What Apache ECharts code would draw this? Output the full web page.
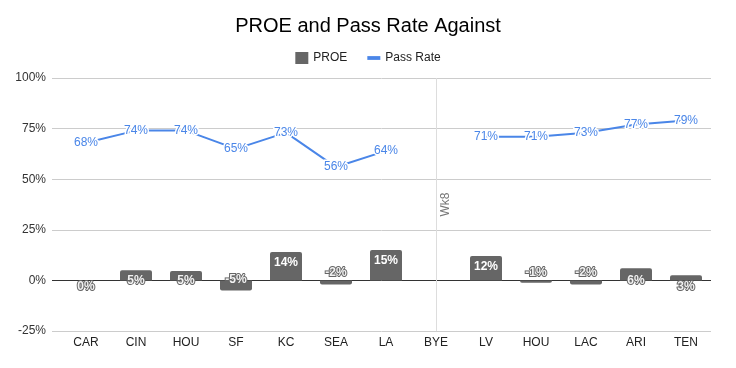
<!DOCTYPE html>
<html><head><meta charset="utf-8">
<script src="https://cdn.jsdelivr.net/npm/echarts@6/dist/echarts.min.js"></script>
<style>html,body{margin:0;padding:0;background:#fff}#c{width:736px;height:368px}</style>
</head><body><div id="c"></div>
<script>
var categories = ['CAR','CIN','HOU','SF','KC','SEA','LA','BYE','LV','HOU','LAC','ARI','TEN'];
var proe = [0, 5, 4.6, -5, 14, -2, 15, null, 12, -1.2, -2, 6, 2.6];
var passRate = [68, 74, 74, 65, 73, 56, 64, null, 71, 71, 73, 77, 79];
var yTicks = [-25, 0, 25, 50, 75, 100];
var byeLabel = 'Wk8';

var FONT = 'Liberation Sans, Arial, sans-serif';
var yMin = yTicks[0], yMax = yTicks[yTicks.length - 1];

function barLabel(v) {
  var base = {show: true, fontFamily: FONT, fontSize: 12, fontWeight: 'bold', color: '#fff',
    formatter: function (p) { return Math.round(p.value) + '%'; }};
  if (v >= 10) { base.position = 'insideTop'; base.distance = 5; }
  else if (v > 3) { base.position = 'insideBottom'; base.distance = -6; base.color = '#f2f2f2'; base.textBorderColor = '#666'; base.textBorderWidth = 2; }
  else if (v >= 0) { base.position = 'insideBottom'; base.distance = -12; base.color = '#f2f2f2'; base.textBorderColor = '#666'; base.textBorderWidth = 2; }
  else if (v >= -3) { base.position = 'top'; base.distance = 2; base.color = '#f2f2f2'; base.textBorderColor = '#666'; base.textBorderWidth = 2; }
  else { base.position = 'top'; base.distance = -5; base.color = '#f2f2f2'; base.textBorderColor = '#666'; base.textBorderWidth = 2; }
  return base;
}

var barData = proe.map(function (v) {
  if (v === null) return null;
  return {value: v, label: barLabel(v),
    itemStyle: {borderRadius: v >= 0 ? [2, 2, 0, 0] : [0, 0, 2, 2]}};
});

var gridColors = yTicks.map(function (t) { return t === 0 ? '#333' : '#ccc'; });

var chart = echarts.init(document.getElementById('c'));
chart.setOption({
  animation: false,
  title: {text: 'PROE and Pass Rate Against', left: 'center', top: 11,
    textStyle: {fontFamily: FONT, fontSize: 20, fontWeight: 'normal', color: '#000'}},
  legend: {top: 47, left: 'center', itemGap: 20, itemWidth: 13, itemHeight: 12,
    textStyle: {fontFamily: FONT, fontSize: 12, color: '#222'},
    data: [{name: 'PROE', icon: 'rect'},
           {name: 'Pass Rate', icon: 'path://M0,0H12V3.5H0Z'}]},
  grid: [
    {left: 52, right: 25, top: 78, bottom: 37},
    {left: 61, right: 25, top: 78, bottom: 37}
  ],
  xAxis: [
    {gridIndex: 0, type: 'value', show: false, min: 0, max: 1},
    {gridIndex: 1, type: 'category', data: categories,
      axisLine: {show: false, onZero: false}, axisTick: {show: false},
      axisLabel: {fontFamily: FONT, fontSize: 12, color: '#222', margin: 6}}
  ],
  yAxis: [
    {gridIndex: 0, type: 'value', min: yMin, max: yMax, interval: 25,
      axisLabel: {fontFamily: FONT, fontSize: 12, color: '#333', formatter: '{value}%', margin: 6},
      splitLine: {lineStyle: {color: gridColors}}, axisLine: {show: false}, axisTick: {show: false}},
    {gridIndex: 1, type: 'value', min: yMin, max: yMax, interval: 25,
      axisLabel: {show: false}, splitLine: {show: false}, axisLine: {show: false}, axisTick: {show: false}}
  ],
  series: [
    {name: 'PROE', type: 'bar', xAxisIndex: 1, yAxisIndex: 1, data: barData, barWidth: 32,
      itemStyle: {color: '#666666'},
      markLine: {silent: true, symbol: 'none', animation: false,
        data: [
          {xAxis: 'BYE', lineStyle: {color: '#ddd', width: 1, type: 'solid'},
            label: {show: true, formatter: byeLabel, position: 'insideMiddleBottom', distance: 4,
              fontFamily: FONT, fontSize: 12, color: '#777'}}
        ]}},
    {name: 'Pass Rate', type: 'line', xAxisIndex: 1, yAxisIndex: 1, data: passRate, connectNulls: false,
      symbol: 'circle', symbolSize: 1, showSymbol: true,
      itemStyle: {color: '#4a86e8'},
      lineStyle: {color: '#4a86e8', width: 2},
      label: {show: true, position: 'inside', fontFamily: FONT, fontSize: 12, color: '#4a86e8',
        textBorderColor: '#fff', textBorderWidth: 3, formatter: '{c}%'}}
  ]
});
</script></body></html>
